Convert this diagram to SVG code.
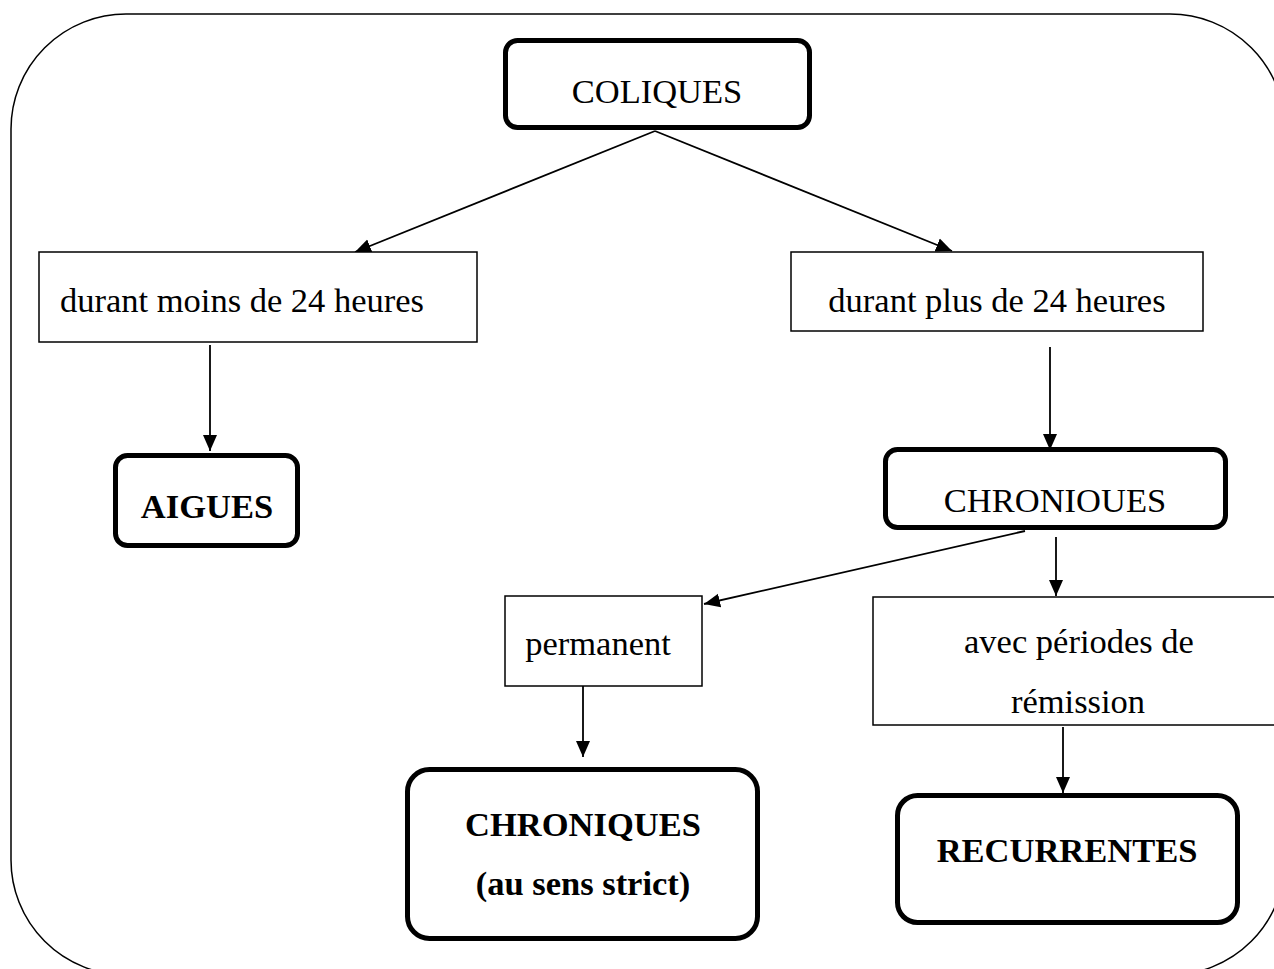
<svg xmlns="http://www.w3.org/2000/svg" width="1274" height="969" viewBox="0 0 1274 969">
<style>
text{font-family:"Liberation Serif","Times New Roman",serif;font-size:34.5px;fill:#000;text-anchor:middle}
.b{font-weight:bold}
.thin{fill:#fff;stroke:#000;stroke-width:1.5}
.thick{fill:#fff;stroke:#000;stroke-width:5}
.frame{fill:none;stroke:#000;stroke-width:1.5}
.c{stroke:#000;stroke-width:1.8;fill:none;marker-end:url(#ah)}
</style>
<defs>
<marker id="ah" markerUnits="userSpaceOnUse" markerWidth="16" markerHeight="16" viewBox="0 0 16 16" refX="16" refY="8" orient="auto">
<path d="M0,1 L16,8 L0,15 Z" fill="#000"/>
</marker>
</defs>
<rect class="frame" x="11" y="14" width="1274" height="961" rx="115" ry="115"/>
<g id="connectors">
<line class="c" x1="655" y1="131" x2="355" y2="252"/>
<line class="c" x1="655" y1="131" x2="952" y2="251"/>
<line class="c" x1="210" y1="345" x2="210" y2="451"/>
<line class="c" x1="1050" y1="347" x2="1050" y2="450"/>
<line class="c" x1="1025" y1="531" x2="704" y2="604"/>
<line class="c" x1="1056" y1="537" x2="1056" y2="596"/>
<line class="c" x1="583" y1="668" x2="583" y2="757"/>
<line class="c" x1="1063" y1="727" x2="1063" y2="793"/>
</g>
<g id="coliques">
<rect class="thick" x="505.5" y="40.5" width="304" height="87" rx="12"/>
<text x="657" y="103">COLIQUES</text>
</g>
<g id="moins24">
<rect class="thin" x="39" y="252" width="438" height="90"/>
<text x="242" y="312">durant moins de 24 heures</text>
</g>
<g id="plus24">
<rect class="thin" x="791" y="252" width="412" height="79"/>
<text x="997" y="312">durant plus de 24 heures</text>
</g>
<g id="aigues">
<rect class="thick" x="115.5" y="455.5" width="182" height="90" rx="12"/>
<text class="b" x="207" y="518">AIGUES</text>
</g>
<g id="chroniques">
<rect class="thick" x="885.5" y="449.5" width="340" height="78" rx="12"/>
<text x="1055" y="512">CHRONIOUES</text>
</g>
<g id="permanent">
<rect class="thin" x="505" y="596" width="197" height="90"/>
<text x="598" y="655">permanent</text>
</g>
<g id="remission">
<rect class="thin" x="873" y="597" width="410" height="128"/>
<text x="1079" y="653">avec périodes de</text>
<text x="1078" y="713">rémission</text>
</g>
<g id="chroniques-strict">
<rect class="thick" x="407.5" y="769.5" width="350" height="169" rx="22"/>
<text class="b" x="583" y="836">CHRONIQUES</text>
<text class="b" x="583" y="895">(au sens strict)</text>
</g>
<g id="recurrentes">
<rect class="thick" x="897.5" y="795.5" width="340" height="127" rx="20"/>
<text class="b" x="1067" y="862">RECURRENTES</text>
</g>
</svg>
